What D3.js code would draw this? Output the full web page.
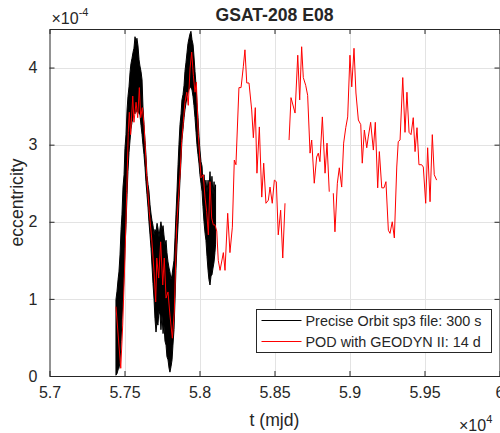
<!DOCTYPE html>
<html>
<head>
<meta charset="utf-8">
<script src="https://cdn.jsdelivr.net/npm/d3@7"></script>
<style>
  body { margin: 0; background: #fff; }
  text { font-family: "Liberation Sans", Arial, sans-serif; fill: #262626; }
</style>
</head>
<body>
<div id="chart"></div>
<script>
// x values are mjd, eccentricity values are in units of 1e-4

// precise orbit (sp3, 300 s) - dense series, read as upper / lower envelope
const sp3T = [57443, 57450, 57457, 57463, 57470, 57477, 57483, 57490, 57497, 57503,
  57510, 57517, 57523, 57530, 57537, 57543, 57550, 57557, 57563, 57570,
  57577, 57583, 57590, 57597, 57603, 57610, 57617, 57623, 57630, 57637,
  57643, 57650, 57657, 57663, 57670, 57677, 57683, 57690, 57697, 57703,
  57710, 57717, 57723, 57730, 57737, 57743, 57750, 57757, 57763, 57770,
  57777, 57783, 57790, 57797, 57803, 57810, 57817, 57823, 57830, 57837,
  57843, 57850, 57857, 57863, 57870, 57877, 57883, 57890, 57897, 57903,
  57910, 57917, 57923, 57930, 57937, 57943, 57950, 57957, 57963, 57970,
  57977, 57983, 57990, 57997, 58003, 58010, 58017, 58023, 58030, 58037,
  58043, 58050, 58057, 58063, 58070, 58077, 58083, 58090, 58097, 58103, 58107];
const sp3Hi = [0.99, 1.10, 1.25, 1.35, 1.57, 1.90, 2.09, 2.45, 2.61, 2.95,
  3.13, 3.45, 3.62, 3.75, 3.94, 4.05, 4.12, 4.20, 4.25, 4.40,
  4.33, 4.38, 4.28, 4.10, 4.02, 3.95, 3.84, 3.50, 3.26, 3.05,
  2.87, 2.60, 2.48, 2.40, 2.22, 2.10, 2.02, 1.95, 1.83, 1.90,
  1.87, 1.98, 1.92, 1.80, 1.92, 2.00, 1.89, 1.95, 1.83, 1.70,
  1.76, 1.60, 1.48, 1.40, 1.35, 1.25, 1.31, 1.40, 1.50, 1.80,
  2.09, 2.40, 2.74, 3.00, 3.26, 3.40, 3.58, 3.65, 3.77, 3.95,
  4.07, 4.20, 4.31, 4.38, 4.44, 4.47, 4.36, 4.30, 4.15, 3.95,
  3.77, 3.55, 3.35, 3.10, 2.93, 2.78, 2.72, 2.50, 2.61, 2.45,
  2.54, 2.38, 2.54, 2.42, 2.65, 2.40, 2.59, 2.35, 2.52, 2.30, 2.48];
const sp3Lo = [0.01, 0.03, 0.08, 0.10, 0.18, 0.45, 0.73, 1.00, 1.31, 1.65,
  1.96, 2.35, 2.65, 2.90, 3.06, 3.20, 3.29, 3.35, 3.42, 3.40,
  3.48, 3.42, 3.45, 3.40, 3.39, 3.25, 3.13, 3.00, 2.87, 2.70,
  2.52, 2.35, 2.18, 2.00, 1.83, 1.65, 1.44, 1.20, 0.99, 0.75,
  0.57, 0.70, 0.66, 0.85, 0.79, 0.60, 0.79, 0.55, 0.66, 0.45,
  0.40, 0.25, 0.21, 0.10, 0.05, 0.12, 0.21, 0.40, 0.60, 1.00,
  1.37, 1.70, 1.96, 2.25, 2.54, 2.80, 3.06, 3.20, 3.35, 3.45,
  3.54, 3.62, 3.67, 3.72, 3.75, 3.74, 3.71, 3.62, 3.51, 3.35,
  3.16, 3.00, 2.87, 2.75, 2.61, 2.50, 2.39, 2.20, 2.00, 1.85,
  1.76, 1.55, 1.37, 1.25, 1.18, 1.30, 1.31, 1.40, 1.48, 1.60, 1.70];

// POD with GEODYN II, one value per 14 d arc (null = gap)
const podT = [57443, 57475, 57488, 57503, 57515, 57525, 57532, 57541, 57555, 57563,
  57577, 57588, 57599, 57608, 57619, 57630, 57648, 57665, 57681, 57697,
  57708, 57715, 57728, 57741, 57755, 57765, 57777, 57790, 57803, 57819,
  57832, 57848, 57870, 57881, 57892, 57903, 57915, 57925, 57937, 57948,
  57959, 57970, 57979, 57992, 58010, 58025, 58037, 58048, 58059, 58070,
  58081, 58092, 58103, 58115, 58125, 58137, 58159, 58170, 58188, 58203,
  58219, 58232, 58243, 58263, 58277, 58292, 58303, 58315, 58330, 58348,
  58359, 58372, 58383, 58399, 58415, 58428, 58443, 58459, 58470, 58485,
  58499, 58512, 58525, 58541, 58555, 58570, 58584,
  58597, 58610, 58637, 58655, 58668, 58681, 58692, 58708, 58721, 58737,
  58748, 58765, 58781, 58792, 58803, 58819, 58837, 58850, 58865, 58878,
  58892, 58903, 58919, 58932, 58948, 58961, 58975, 58988, 59003, 59015,
  59030, 59043, 59059, 59075, 59085, 59099, 59115, 59125, 59141, 59159,
  59172, 59188, 59199, 59215, 59230, 59243, 59259, 59270, 59285, 59299,
  59315, 59325, 59337, 59355, 59370, 59383, 59397, 59410, 59425, 59437,
  59450, 59463, 59481, 59492, 59508, 59521, 59537, 59552, 59565, 59581];
const podE = [0.90, 0.10, 0.66, 1.53, 2.39, 3.16, 3.42, 3.13, 3.63, 3.29,
  3.55, 3.35, 3.74, 3.35, 3.48, 3.26, 2.61, 2.13, 1.79, 1.35,
  0.96, 1.53, 1.27, 1.74, 1.18, 1.53, 1.01, 1.09, 0.79, 0.49,
  0.83, 1.96, 2.61, 3.04, 3.29, 3.55, 3.68, 3.51, 3.99, 4.20,
  3.90, 3.68, 3.81, 3.13, 2.57, 2.61, 2.31, 2.13, 1.83, 2.52,
  2.05, 1.96, 1.96, 1.88, 1.50, 1.37, 1.60, 1.37, 2.11, 1.60,
  1.93, 2.80, 2.74, 3.74, 3.74, 4.01, 4.23, 3.80, 3.80, 3.45,
  3.09, 3.48, 2.63, 3.23, 2.32, 2.76, 2.24, 2.28, 2.45, 2.24,
  2.54, 2.52, 1.83, 2.15, 1.53, 2.24, null,
  3.06, 3.61, 3.41, 4.16, 3.58, 4.27, 3.87, 3.77, 3.64, 2.89,
  3.06, 2.50, 2.84, 2.89, 2.78, 3.36, 2.63, 3.02, 2.39, null,
  2.37, 1.87, 2.50, 2.70, 2.45, 3.02, 3.22, 3.36, 4.16, 3.75,
  4.25, 3.67, 3.32, 3.26, 2.76, 3.19, 2.96, 3.10, 3.29, 2.93,
  3.29, 2.44, 2.91, 2.44, 2.44, 2.52, 1.89, 1.85, 2.00, 1.79,
  2.71, 3.04, 3.06, 3.87, 3.16, 3.68, 3.16, 3.13, 3.35, 2.91,
  3.22, 2.74, 2.74, 2.71, 2.24, 2.96, 2.26, 3.13, 2.61, 2.54];

const xTicks = [57000, 57500, 58000, 58500, 59000, 59500, 60000];
const yTicks = [0, 1, 2, 3, 4];
const legendLabels = ["Precise Orbit sp3 file: 300 s", "POD with GEODYN II: 14 d"];
const seriesColors = ["#000000", "#ff0000"];

// Chart dimensions
const width = 500;
const height = 433;
const marginTop = 29;
const marginRight = 0.5;
const marginBottom = 57;
const marginLeft = 49.5;
const axisColor = "#262626";

const x = d3.scaleLinear()
  .domain([57000, 60000])
  .range([marginLeft, width - marginRight]);

const y = d3.scaleLinear()
  .domain([0, 4.5])
  .range([height - marginBottom, marginTop]);

const svg = d3.select("#chart")
  .append("svg")
  .attr("width", width)
  .attr("height", height)
  .attr("viewBox", [0, 0, width, height]);

// grid lines
const grid = svg.append("g").attr("stroke", "#e3e3e3").attr("stroke-width", 1);
grid.selectAll(".gx")
  .data(xTicks.slice(1, -1))
  .join("line")
  .attr("x1", (d) => Math.round(x(d)) + 0.5)
  .attr("x2", (d) => Math.round(x(d)) + 0.5)
  .attr("y1", marginTop)
  .attr("y2", height - marginBottom);
grid.selectAll(".gy")
  .data(yTicks.slice(1))
  .join("line")
  .attr("x1", marginLeft)
  .attr("x2", width - marginRight)
  .attr("y1", (d) => Math.round(y(d)) + 0.5)
  .attr("y2", (d) => Math.round(y(d)) + 0.5);

// sp3 series (dense 300 s samples, drawn as a filled band between the envelopes)
const sp3 = sp3T.map((t, i) => ({ t: t, hi: sp3Hi[i], lo: sp3Lo[i] }));
svg.append("path")
  .datum(sp3)
  .attr("fill", seriesColors[0])
  .attr("stroke", seriesColors[0])
  .attr("stroke-width", 1)
  .attr("d", d3.area()
    .x((d) => x(d.t))
    .y0((d) => y(d.lo))
    .y1((d) => y(d.hi)));

// POD series
const pod = podT.map((t, i) => ({ t: t, e: podE[i] }));
svg.append("path")
  .datum(pod)
  .attr("fill", "none")
  .attr("stroke", seriesColors[1])
  .attr("stroke-width", 1)
  .attr("d", d3.line()
    .defined((d) => d.e !== null)
    .x((d) => x(d.t))
    .y((d) => y(d.e)));

// axes (MATLAB style box, ticks inside)
const fmtX = (d) => String(+(d / 1e4).toFixed(2));
svg.append("g")
  .attr("transform", `translate(0,${height - marginBottom})`)
  .call(d3.axisBottom(x).tickValues(xTicks).tickFormat(fmtX).tickSizeInner(-5).tickSizeOuter(0).tickPadding(11))
  .call((g) => g.selectAll("text").attr("font-size", 16).attr("fill", axisColor));
svg.append("g")
  .attr("transform", `translate(0,${marginTop})`)
  .call(d3.axisTop(x).tickValues(xTicks).tickFormat("").tickSizeInner(-5).tickSizeOuter(0));
svg.append("g")
  .attr("transform", `translate(${marginLeft},0)`)
  .call(d3.axisLeft(y).tickValues(yTicks).tickFormat(d3.format("d")).tickSizeInner(-5).tickSizeOuter(0).tickPadding(12))
  .call((g) => g.selectAll("text").attr("font-size", 16).attr("fill", axisColor));
svg.append("g")
  .attr("transform", `translate(${width - marginRight},0)`)
  .call(d3.axisRight(y).tickValues(yTicks).tickFormat("").tickSizeInner(-5).tickSizeOuter(0));
svg.selectAll(".domain, .tick line").attr("stroke", axisColor);
svg.selectAll("text").attr("font-family", "Liberation Sans, Arial, sans-serif");

// exponent labels
const expTop = svg.append("text")
  .attr("x", marginLeft + 2)
  .attr("y", 24)
  .attr("font-size", 16);
expTop.append("tspan").text("\u00d710");
expTop.append("tspan").attr("font-size", 11).attr("dy", -8).text("-4");

const expBottom = svg.append("text")
  .attr("x", 459)
  .attr("y", 431)
  .attr("font-size", 16);
expBottom.append("tspan").text("\u00d710");
expBottom.append("tspan").attr("font-size", 11).attr("dy", -8).text("4");

// title and axis labels
svg.append("text")
  .attr("x", (marginLeft + width - marginRight) / 2)
  .attr("y", 21)
  .attr("text-anchor", "middle")
  .attr("font-size", 17.6)
  .attr("font-weight", "bold")
  .attr("fill", "#000")
  .text("GSAT-208 E08");

svg.append("text")
  .attr("x", (marginLeft + width - marginRight) / 2)
  .attr("y", 426)
  .attr("text-anchor", "middle")
  .attr("font-size", 17.6)
  .text("t (mjd)");

svg.append("text")
  .attr("transform", `translate(23,${(marginTop + height - marginBottom) / 2}) rotate(-90)`)
  .attr("text-anchor", "middle")
  .attr("font-size", 17.6)
  .text("eccentricity");

// legend
const legend = svg.append("g").attr("transform", "translate(256.5,309.5)");
legend.append("rect")
  .attr("width", 235)
  .attr("height", 43)
  .attr("fill", "#fff")
  .attr("stroke", axisColor)
  .attr("stroke-width", 1);
const items = legend.selectAll(".item")
  .data(legendLabels)
  .join("g")
  .attr("transform", (d, i) => `translate(0,${11 + i * 21})`);
items.append("line")
  .attr("x1", 5)
  .attr("x2", 45)
  .attr("stroke", (d, i) => seriesColors[i])
  .attr("stroke-width", 1);
items.append("text")
  .attr("x", 49)
  .attr("dy", "0.35em")
  .attr("font-size", 14.4)
  .attr("fill", "#000")
  .text((d) => d);
</script>
</body>
</html>
